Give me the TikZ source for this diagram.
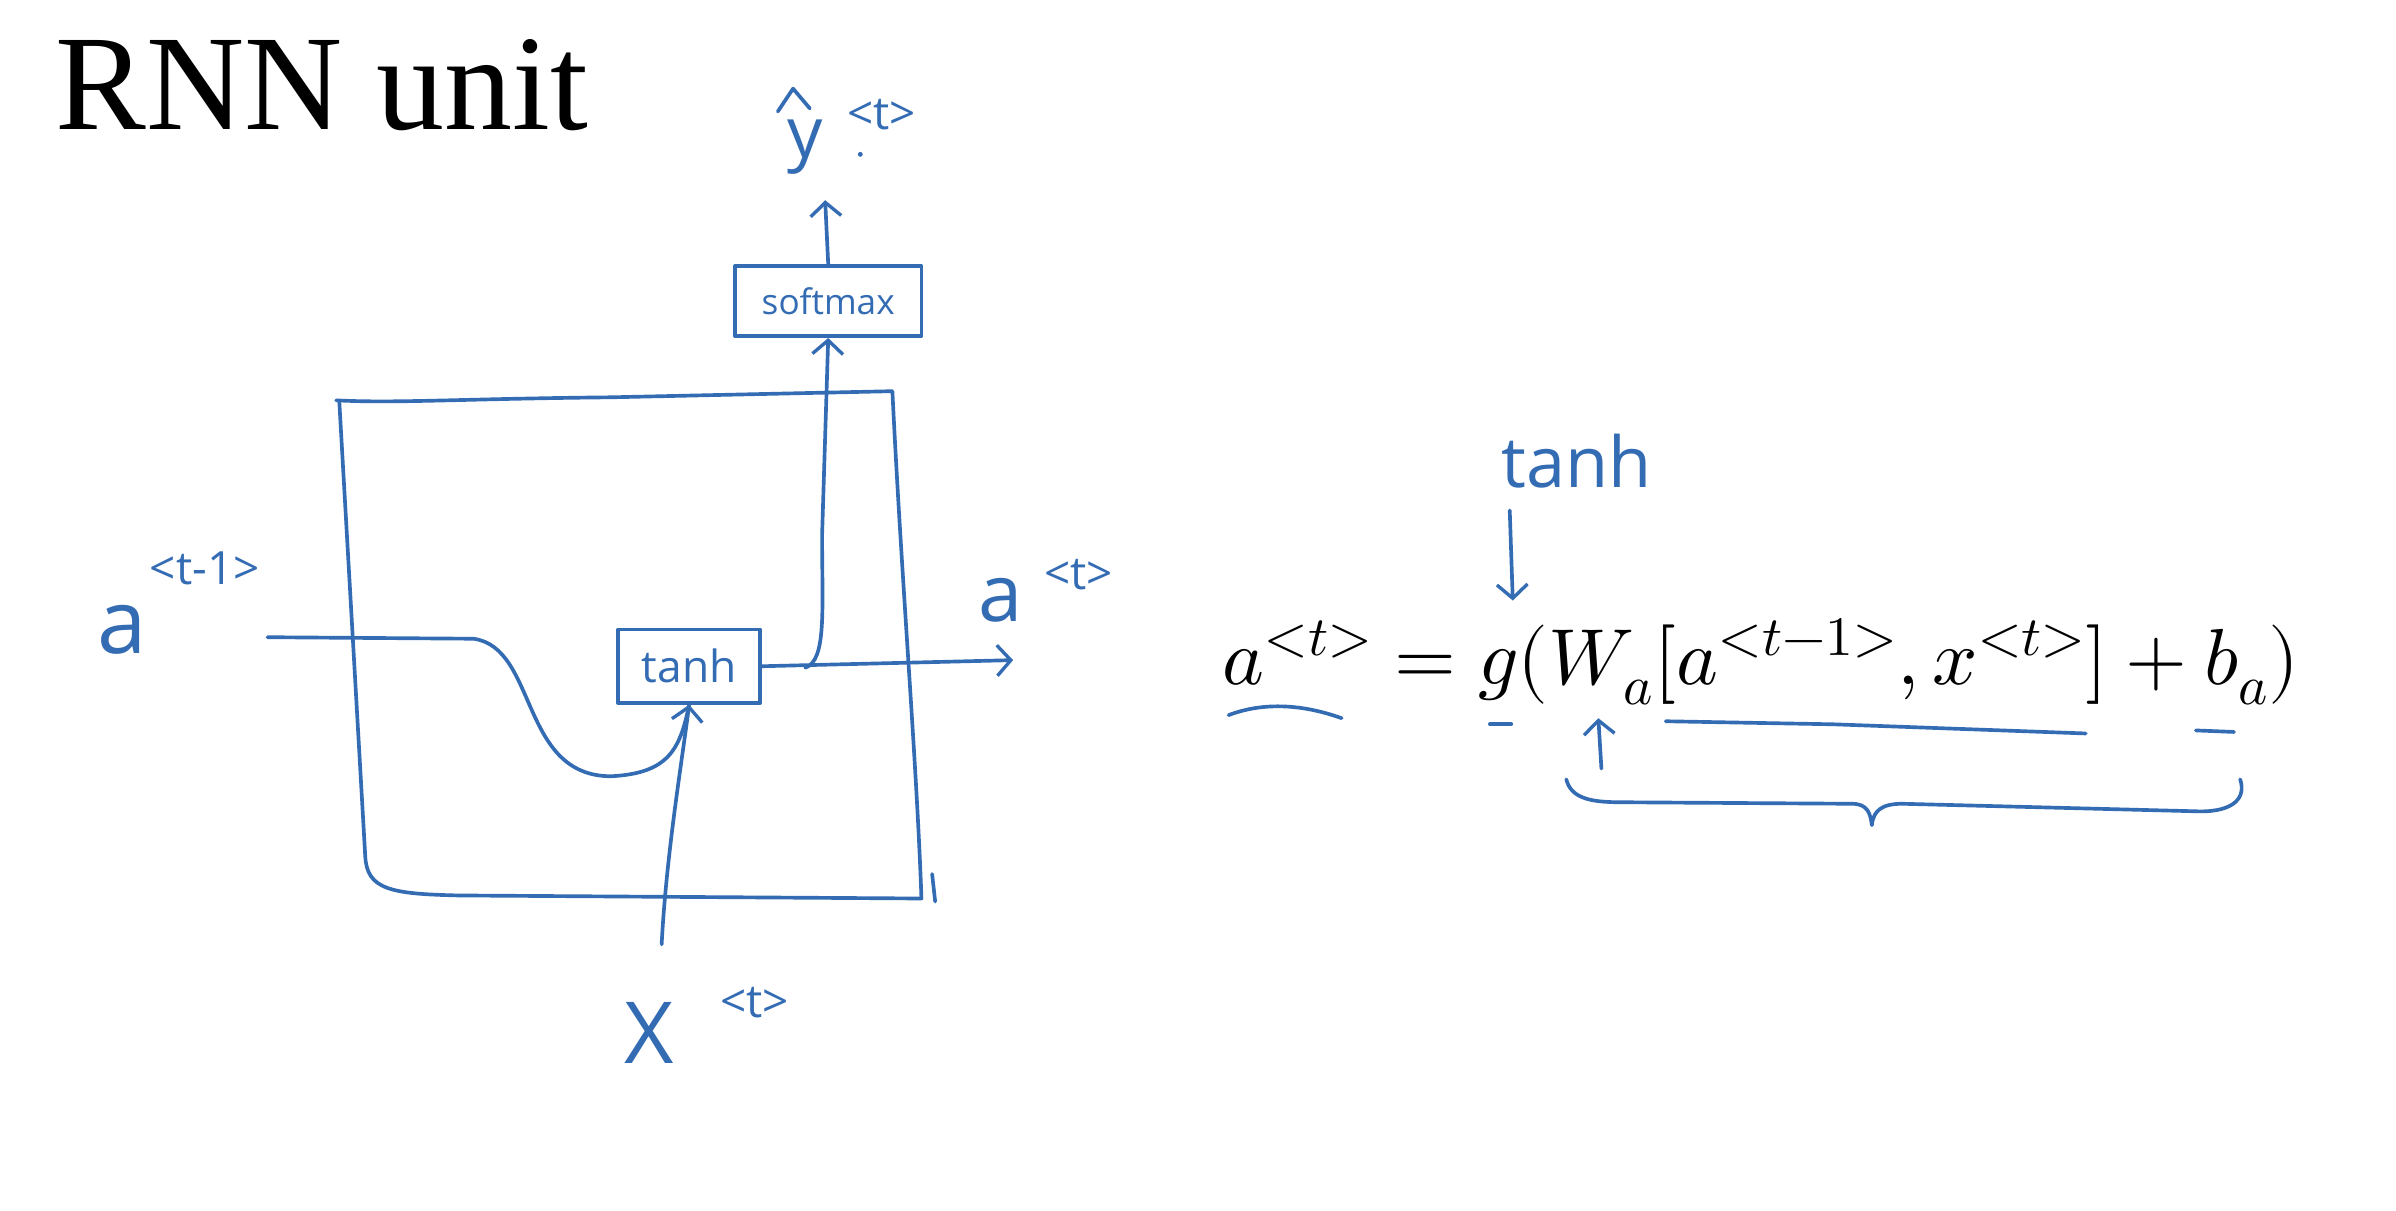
\documentclass[tikz,border=0pt]{standalone}
\usepackage{fontspec}
\usepackage{unicode-math}
\setmainfont{Liberation Serif}
\setmathfont{Latin Modern Math}
\newfontfamily\hand{Open Sans}
\usetikzlibrary{arrows.meta,calc}
\definecolor{pen}{RGB}{52,108,180}
\begin{document}
\begin{tikzpicture}[x=1pt,y=-1pt,
  ink/.style={draw=pen, line width=2.4pt, line cap=round, line join=round},
  inkarrow/.style={ink, -{Straight Barb[length=9pt,width=20pt,line width=2.2pt]}},
  hw/.style={text=pen, font=\hand\fontsize{#1}{#1}\selectfont, inner sep=0pt},
  hwbox/.style={ink, minimum width=#1, inner sep=0pt, rectangle},
]
\useasboundingbox (0,0) rectangle (1568,792);
\fill[white] (0,0) rectangle (1568,792);

% title
\node[anchor=base west, inner sep=0pt, font=\fontsize{89}{89}\selectfont] (title) at (36,85) {RNN unit};

% big cell box
\draw[ink] (220,262) .. controls (260,264) and (300,261) .. (400,260) -- (584,256)
  .. controls (590,380) and (600,500) .. (603,588)
  -- (300,586) .. controls (255,585) and (240,582) .. (239,560)
  -- (222,262);
\draw[ink] (610,572) -- (612,590);

% inner boxes
\node[hwbox=93pt, minimum height=48pt, hw=29] (tanh) at (451,436) {tanh};
\node[hwbox=122pt, minimum height=46pt, hw=23] (soft) at (542,197) {softmax};

% labels
\node[hw=58] (ain) at (80,412) {a};
\node[hw=30] (ainsup) at (134,372) {<t-1>};
\node[hw=52] (aout) at (655,393) {a};
\node[hw=30] (aoutsup) at (706,376) {<t>};
\node[hw=46] (yhat) at (527,96) {y};
\draw[ink] (509,73) -- (519,58) -- (530,71);
\node[hw=30] (yhatsup) at (577,75) {<t>};
\fill[pen] (563,101) circle (1.6pt);
\node[hw=56] (xin) at (425,676) {X};
\node[hw=30] (xinsup) at (494,656) {<t>};

% connectors
\coordinate (astart) at (175,417);
\coordinate (xstart) at (433,618);
\coordinate (aend) at (663,432);
\coordinate (split) at (527,437);
\coordinate (ytop) at (540,131);

\draw[ink] (astart) -- (310,418) .. controls (352,424) and (340,508) .. (400,508)
  .. controls (438,506) and (445,490) .. (tanh.south);
\draw[inkarrow] (xstart) .. controls (436,560) and (446,500) .. (tanh.south);
\draw[inkarrow] (tanh.east) -- (aend);
\draw[inkarrow] (split) .. controls (541,432) and (538,400) .. (538,350) -- (soft.south);
\draw[inkarrow] (soft.north) -- (ytop);

% equation
\node[anchor=base west, inner sep=0pt, font=\fontsize{52}{58}\selectfont] (eq) at (800,448)
  {$a^{<t>} = g(W_a[a^{<t-1>},x^{<t>}] + b_a)$};

\node[hw=46] (tanhnote) at (1032,302) {tanh};
\coordinate (tnstart) at (988,334);
\coordinate (tnend) at (990,393);
\draw[inkarrow] (tnstart) -- (tnend);

% annotations
\draw[ink] (804,468) .. controls (825,460) and (850,460) .. (878,470);
\draw[ink] (975,474) -- (989,474);
\coordinate (wtail) at (1048,503);
\coordinate (whead) at (1046,470);
\draw[inkarrow] (wtail) -- (whead);
\draw[ink] (1090,472) -- (1200,474) -- (1365,480);
\draw[ink] (1437,478) -- (1462,479);
\draw[ink] (1025,510) .. controls (1028,522) and (1040,525) .. (1060,525)
  -- (1212,526) .. controls (1222,526) and (1224,532) .. (1225,540)
  .. controls (1226,530) and (1232,526) .. (1245,526)
  -- (1440,531) .. controls (1462,531) and (1470,522) .. (1466,510);
\end{tikzpicture}
\end{document}
